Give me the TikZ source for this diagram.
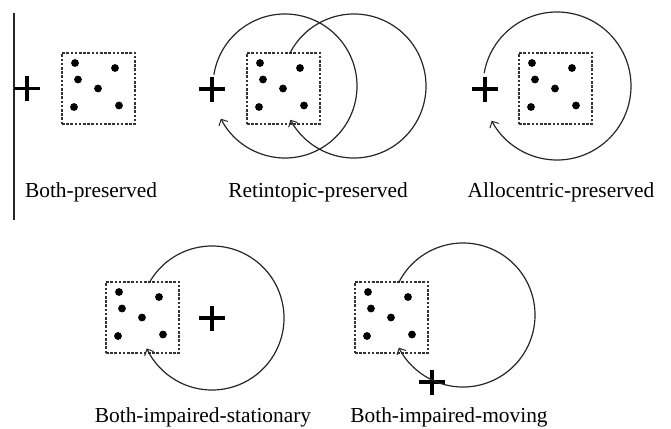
\documentclass[tikz,border=0pt]{standalone}
\usepackage{fontspec}
\setmainfont{Liberation Serif}
\usetikzlibrary{arrows.meta}
\begin{document}
\begin{tikzpicture}[x=1pt,y=-1pt,
  stimbox/.style={draw=black!80, dash pattern=on 2.6pt off 1.6pt, line width=1.1pt,
    minimum width=73pt, minimum height=71pt, inner sep=0pt},
  dotnode/.style={circle, fill=black, inner sep=0pt, minimum size=7.8pt},
  crossbar/.style={line width=3.6pt, black},
  orbit/.style={line width=1.2pt, black!85,
    -{Straight Barb[length=5pt,width=10pt,line width=1pt]}},
  lbl/.style={font=\fontsize{21.4pt}{24pt}\selectfont, anchor=base, inner sep=0pt},
  stim/.pic={
    \node[stimbox] (-box) at (36.5,35.5) {};
    \node[dotnode] (-d1) at (13,10) {};
    \node[dotnode] (-d2) at (53,15) {};
    \node[dotnode] (-d3) at (16,26.5) {};
    \node[dotnode] (-d4) at (36,35.5) {};
    \node[dotnode] (-d5) at (12,54) {};
    \node[dotnode] (-d6) at (57,52.5) {};
  },
  cross/.pic={
    \coordinate (-c) at (0,0);
    \draw[crossbar] (-13,0) -- (13,0);
    \draw[crossbar] (0,-12.5) -- (0,12.5);
  }]
\useasboundingbox (0,0) rectangle (671,428);

% divider line
\coordinate (vtop) at (14,13);
\coordinate (vbot) at (14,220);
\draw[line width=1.1pt, black!85] (vtop) -- (vbot);

% stimulus boxes
\pic (s1) at (62,53) {stim};
\pic (s2) at (247,53) {stim};
\pic (s3) at (519,53) {stim};
\pic (s4) at (106,282) {stim};
\pic (s5) at (355,282) {stim};

% fixation crosses
\pic (p1) at (27,88.5) {cross};
\pic (p2) at (212,89) {cross};
\pic (p3) at (485,89) {cross};
\pic (p4) at (212,318) {cross};
\pic (p5) at (432,382) {cross};

% circle centres
\coordinate (c2a) at (285,86);
\coordinate (c2b) at (354,86);
\coordinate (c3) at (557,86);
\coordinate (c4) at (212,318);
\coordinate (c5) at (463,315);

% movement arcs
\draw[orbit] (c2a) ++(171:72pt) arc[start angle=171, end angle=-153, radius=72pt];
\draw[orbit] (c2b) ++(153:72pt) arc[start angle=153, end angle=-152, radius=72pt];
\draw[orbit] (c3) ++(170:74pt) arc[start angle=170, end angle=-152, radius=74pt];
\draw[orbit] (c4) ++(150:72pt) arc[start angle=150, end angle=-155, radius=72pt];
\draw[orbit] (c5) ++(153:72pt) arc[start angle=153, end angle=-153, radius=72pt];

% labels
\node[lbl] (l1) at (91,197) {Both-preserved};
\node[lbl] (l2) at (318,197) {Retintopic-preserved};
\node[lbl] (l3) at (561,197) {Allocentric-preserved};
\node[lbl] (l4) at (203,422) {Both-impaired-stationary};
\node[lbl] (l5) at (449,422) {Both-impaired-moving};
\end{tikzpicture}
\end{document}
